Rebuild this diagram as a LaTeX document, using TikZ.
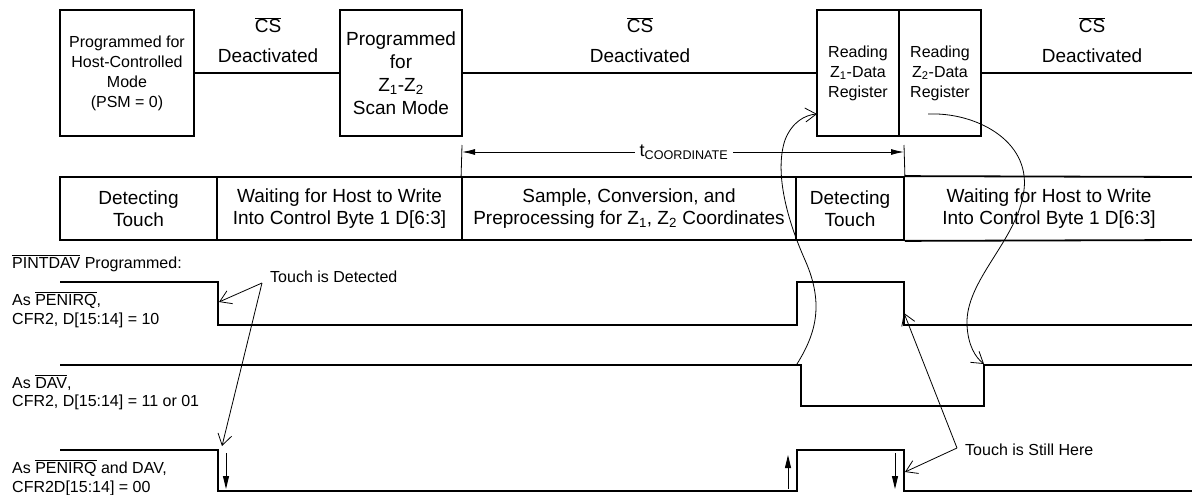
\documentclass[tikz,border=0pt]{standalone}
\usepackage{fontspec}
\setmainfont{Liberation Sans}
\usetikzlibrary{arrows.meta}
\newcommand{\myovl}[1]{$\overline{\mbox{#1}}$}
\begin{document}
\begin{tikzpicture}[x=1pt,y=-1pt,
  fA/.style={font=\fontsize{16}{20}\selectfont},
  fB/.style={font=\fontsize{19}{23}\selectfont},
  fC/.style={font=\fontsize{19}{22}\selectfont},
  topbox/.style={draw,line width=1.8pt,inner sep=0pt,align=center,minimum height=126},
  cell/.style={draw,line width=1.8pt,inner sep=0pt,align=center,minimum height=63,fC},
  lab/.style={inner sep=0pt,fA,anchor=base west},
  wave/.style={line width=2.2pt,line join=miter},
  thinl/.style={line width=0.8pt},
  barb/.style={thinl,-{Straight Barb[length=11pt,width=14pt]}},
  bigarr/.style={line width=0.9pt,-{Latex[length=12pt,width=6pt]}},
  edgearr/.style={line width=0.9pt,-{Triangle[length=13pt,width=6pt]}}
]
\useasboundingbox (0,0) rectangle (1192,495);

% ---- top row ----
\node[topbox,fA,minimum width=134] (b1) at (127,73) {Programmed for\\Host-Controlled\\Mode\\(PSM = 0)};
\node[topbox,fB,minimum width=122] (b2) at (401,73) {Programmed\\for\\Z\textsubscript{1}-Z\textsubscript{2}\\Scan Mode};
\node[topbox,fA,minimum width=82] (b3) at (858,73) {Reading\\Z\textsubscript{1}-Data\\Register};
\node[topbox,fA,minimum width=82] (b4) at (940,73) {Reading\\Z\textsubscript{2}-Data\\Register};
\coordinate (csEnd) at (1192,73);
\draw[line width=1.8pt] (b1.east) -- (b2.west);
\draw[line width=1.8pt] (b2.east) -- (b3.west);
\draw[line width=1.8pt] (b4.east) -- (csEnd);

\node[fB,inner sep=0pt,anchor=base] (cs1) at (268,33) {\myovl{CS}};
\node[fB,inner sep=0pt,anchor=base] (de1) at (268,63) {Deactivated};
\node[fB,inner sep=0pt,anchor=base] (cs2) at (640,33) {\myovl{CS}};
\node[fB,inner sep=0pt,anchor=base] (de2) at (640,63) {Deactivated};
\node[fB,inner sep=0pt,anchor=base] (cs3) at (1092,33) {\myovl{CS}};
\node[fB,inner sep=0pt,anchor=base] (de3) at (1092,63) {Deactivated};

% ---- middle row ----
\node[cell,minimum width=157] (m1) at (138.5,208.5) {Detecting\\Touch};
\node[cell,minimum width=245] (m2) at (339.5,208.5) {Waiting for Host to Write\\Into Control Byte 1 D[6:3]};
\node[cell,minimum width=334] (m3) at (629,208.5) {Sample, Conversion, and\\Preprocessing for Z\textsubscript{1}, Z\textsubscript{2} Coordinates};
\node[cell,minimum width=108] (m4) at (850,208.5) {Detecting\\Touch};
\node[fC,inner sep=0pt,align=center] (m5) at (1049,208.5) {Waiting for Host to Write\\Into Control Byte 1 D[6:3]};
\coordinate (rowT) at (1192,177);
\coordinate (rowB) at (1192,240);
\draw[line width=1.8pt] (m4.north east) -- (rowT);
\draw[line width=1.8pt] (m4.south east) -- (rowB);

% ---- t coordinate ----
\coordinate (tkL) at (462,145);
\coordinate (tkR) at (904,145);
\draw[thinl] (tkL) -- (m3.north west);
\draw[thinl] (tkR) -- (m4.north east);
\coordinate (tA) at (462,152);
\coordinate (tB) at (904,152);
\draw[line width=0.9pt,{Latex[length=13pt,width=6pt]}-{Latex[length=13pt,width=6pt]}] (tA) -- (tB);
\node[fill=white,inner sep=5pt,font=\fontsize{18}{20}\selectfont] (tc) at (684,152) {t\textsubscript{COORDINATE}};

% ---- labels ----
\node[lab] (pin) at (12,268) {\myovl{PINTDAV} Programmed:};
\node[lab] (l1a) at (12,305) {As \myovl{PENIRQ},};
\node[lab] (l1b) at (12,324) {CFR2, D[15:14] = 10};
\node[lab] (l2a) at (12,388) {As \myovl{DAV},};
\node[lab] (l2b) at (12,406) {CFR2, D[15:14] = 11 or 01};
\node[lab] (l3a) at (12,473) {As \myovl{PENIRQ} and DAV,};
\node[lab] (l3b) at (12,492) {CFR2D[15:14] = 00};

% ---- waveforms ----
\draw[wave] (60,282) -- (218,282) -- (218,325) -- (797,325) -- (797,282) -- (904,282) -- (904,325) -- (1192,325);
\draw[wave] (60,365) -- (801,365) -- (801,406) -- (984,406) -- (984,365) -- (1192,365);
\draw[wave] (60,450) -- (218,450) -- (218,491) -- (797,491) -- (797,450) -- (904,450) -- (904,491) -- (1192,491);

% edge arrows
\coordinate (e1s) at (226,453); \coordinate (e1e) at (226,489);
\coordinate (e2s) at (788,489); \coordinate (e2e) at (788,455);
\coordinate (e3s) at (895,453); \coordinate (e3e) at (895,489);
\draw[edgearr] (e1s) -- (e1e);
\draw[edgearr] (e2s) -- (e2e);
\draw[edgearr] (e3s) -- (e3e);

% ---- touch detected ----
\node[lab] (td) at (270,282) {Touch is Detected};
\coordinate (tdA) at (262,283);
\coordinate (tdT1) at (219,302);
\coordinate (tdT2) at (222,446);
\draw[barb] (tdA) -- (tdT1);
\draw[barb] (tdA) -- (tdT2);

% ---- touch still here ----
\node[lab] (ts) at (965,455) {Touch is Still Here};
\coordinate (tsA) at (957,448);
\coordinate (tsT1) at (904,313);
\coordinate (tsT2) at (905,472);
\draw[barb] (tsA) -- (tsT1);
\draw[barb] (tsA) -- (tsT2);

% ---- curves ----
\coordinate (c1s) at (797,364);
\coordinate (c1e) at (817,114);
\draw[barb] (c1s) .. controls (815,335) and (825,305) .. (805,260)
  .. controls (785,215) and (775,170) .. (785,140)
  .. controls (792,122) and (805,115) .. (c1e);
\coordinate (c2s) at (928,114);
\coordinate (c2e) at (984,364);
\draw[barb] (c2s) .. controls (975,112) and (1030,140) .. (1024,190)
  .. controls (1018,240) and (965,280) .. (967,325)
  .. controls (968,345) and (975,357) .. (c2e);
\end{tikzpicture}
\end{document}
